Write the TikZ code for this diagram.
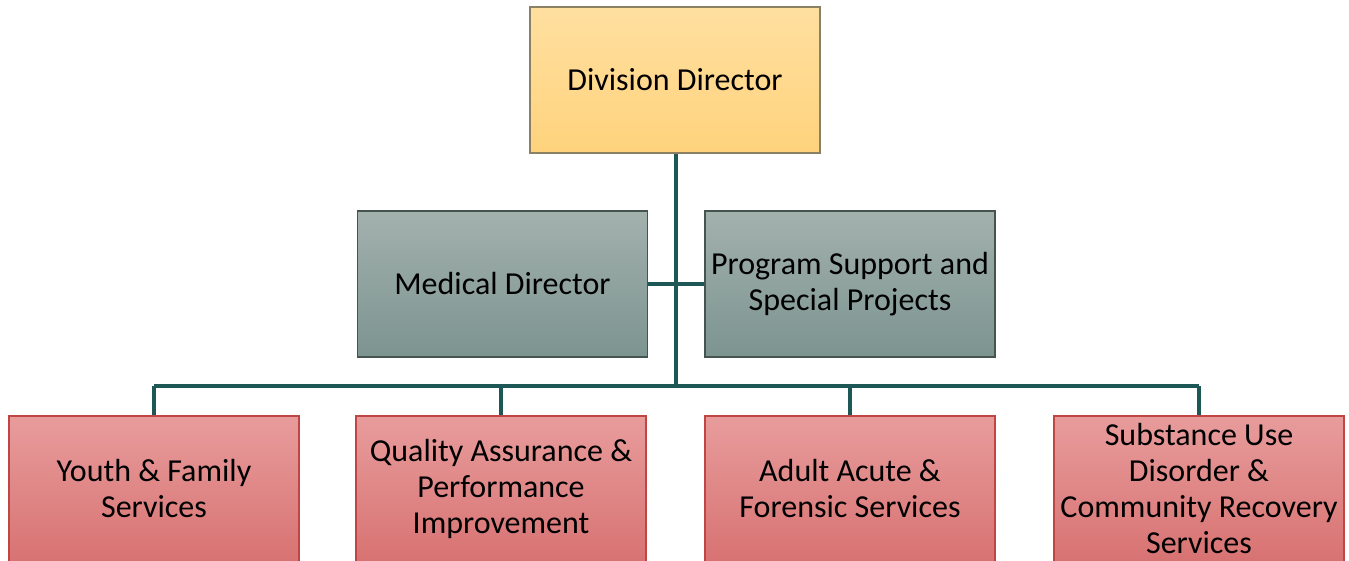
\documentclass[tikz,border=0pt]{standalone}
\usepackage{fontspec}
\setmainfont{Carlito}
\definecolor{dirtop}{RGB}{255, 223, 160}
\definecolor{dirbot}{RGB}{255, 211, 125}
\definecolor{dirline}{RGB}{140, 128, 100}
\definecolor{stafftop}{RGB}{163, 177, 173}
\definecolor{staffbot}{RGB}{124, 148, 144}
\definecolor{staffline}{RGB}{70, 84, 80}
\definecolor{unittop}{RGB}{232, 156, 156}
\definecolor{unitbot}{RGB}{216, 114, 114}
\definecolor{unitline}{RGB}{192, 70, 70}
\definecolor{linkteal}{RGB}{30, 88, 86}
\usepackage{tikz}
\usetikzlibrary{positioning, calc}

\begin{document}
\begin{tikzpicture}[x=1pt, y=-1pt,
  box/.style={draw, minimum width=290pt, minimum height=146pt, inner sep=2pt,
              align=center, font=\fontsize{32}{36}\selectfont, line width=1.4pt},
  dirbox/.style={box, draw=dirline, top color=dirtop, bottom color=dirbot},
  staffbox/.style={box, draw=staffline, top color=stafftop, bottom color=staffbot},
  unitbox/.style={box, draw=unitline, top color=unittop, bottom color=unitbot},
  link/.style={line width=3.4pt, linkteal},
]
\useasboundingbox (0,0) rectangle (1349,561);

\node[dirbox] (dir) at (675,80) {Division Director};

\node[staffbox] (med) at (502.5,284) {Medical Director};
\node[staffbox] (prog) at (850,284) {Program Support and\\Special Projects};

\node[unitbox] (youth) at (154,489) {Youth \& Family\\Services};
\node[unitbox] (qual) at (501,489) {Quality Assurance \&\\Performance\\Improvement};
\node[unitbox] (adult) at (850,489) {Adult Acute \&\\Forensic Services};
\node[unitbox] (sud) at (1199,489) {Substance Use\\Disorder \&\\Community Recovery\\Services};

% connectors
\coordinate (bus) at (676,386);
\draw[link] (dir.south -| bus) -- (bus);
\draw[link] (med.east) -- (prog.west);
\draw[link] (bus -| youth.north) -- (bus -| sud.north);
\foreach \u in {youth, qual, adult, sud}
  \draw[link] (bus -| \u.north) -- (\u.north);
\end{tikzpicture}
\end{document}
